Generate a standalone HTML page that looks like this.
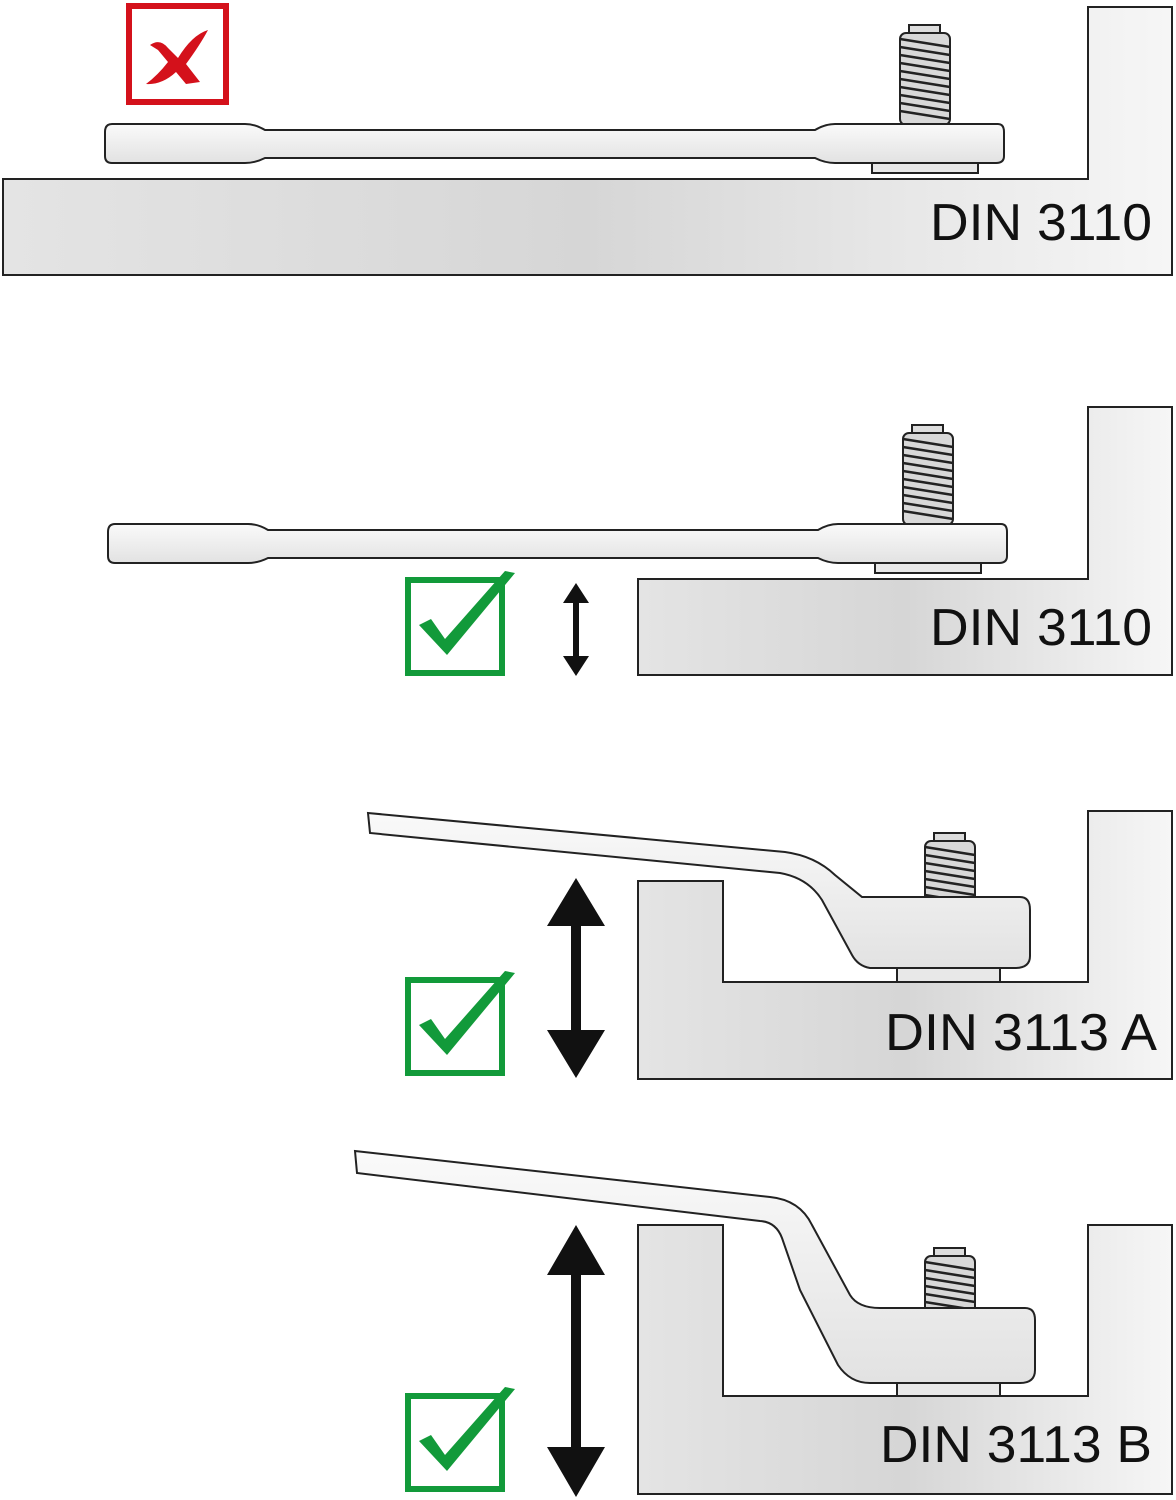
<!DOCTYPE html>
<html><head><meta charset="utf-8"><style>html,body{margin:0;padding:0;background:#fff}svg{display:block}text{font-family:"Liberation Sans",sans-serif}</style></head><body>
<svg width="1176" height="1500" viewBox="0 0 1176 1500" xmlns="http://www.w3.org/2000/svg">
<defs>
<linearGradient id="g" x1="0" y1="0" x2="1" y2="0"><stop offset="0" stop-color="#e4e4e4"/><stop offset="0.5" stop-color="#d6d6d6"/><stop offset="1" stop-color="#f6f6f6"/></linearGradient>
<linearGradient id="w" x1="0" y1="0" x2="0" y2="1"><stop offset="0" stop-color="#fafafa"/><stop offset="1" stop-color="#e2e2e2"/></linearGradient>
<g id="bolt">
<rect x="9" y="0" width="31" height="10" fill="#ddd" stroke="#222" stroke-width="2"/>
<rect x="0" y="8" width="50" height="92" rx="6" fill="#d8d8d8" stroke="#222" stroke-width="2"/>
<path d="M0,14 L50,22 M0,22 L50,30 M0,30 L50,38 M0,38 L50,46 M0,46 L50,54 M0,54 L50,62 M0,62 L50,70 M0,70 L50,78 M0,78 L50,86 M0,86 L50,94" stroke="#222" stroke-width="2.5"/>
</g>
<g id="check">
<rect x="3" y="3" width="94" height="93" fill="none" stroke="#129a3a" stroke-width="6"/>
<path d="M14,48 L26,42 L40,62 L100,-6 L110,-4 L42,78 Z" fill="#129a3a"/>
</g>
<path id="flat" d="M112,124 H245 Q255,124 265,130 H815 Q825,124 835,124 H998 Q1004,124 1004,132 V156 Q1004,163 996,163 H835 Q825,163 815,158 H265 Q255,163 245,163 H112 Q105,163 105,156 V132 Q105,124 112,124 Z"/>
</defs>
<polygon points="3,179 1088,179 1088,7 1172,7 1172,275 3,275" fill="url(#g)" stroke="#222" stroke-width="2"/>
<rect x="872" y="160" width="106" height="13" fill="#e8e8e8" stroke="#222" stroke-width="2"/>
<use href="#bolt" x="900" y="25"/>
<use href="#flat" fill="url(#w)" stroke="#222" stroke-width="2"/>
<text x="930" y="240" font-size="52" textLength="222" lengthAdjust="spacingAndGlyphs" fill="#111">DIN 3110</text>
<rect x="129" y="6" width="97" height="96" fill="#fff" stroke="#d4111b" stroke-width="6"/>
<path d="M150,45 Q160,38 168,48 L178,58 Q192,35 208,30 Q200,45 186,64 L200,82 L186,84 L176,72 Q162,85 146,84 Q158,75 168,62 L158,50 Z" fill="#d4111b"/>
<polygon points="638,579 1088,579 1088,407 1172,407 1172,675 638,675" fill="url(#g)" stroke="#222" stroke-width="2"/>
<rect x="875" y="560" width="106" height="13" fill="#e8e8e8" stroke="#222" stroke-width="2"/>
<use href="#bolt" x="903" y="425"/>
<use href="#flat" x="3" y="400" fill="url(#w)" stroke="#222" stroke-width="2"/>
<text x="930" y="645" font-size="52" textLength="222" lengthAdjust="spacingAndGlyphs" fill="#111">DIN 3110</text>
<use href="#check" x="405" y="577"/>
<path d="M576,583 L589,603 H579 V656 H589 L576,676 L563,656 H573 V603 H563 Z" fill="#111"/>
<polygon points="638,881 723,881 723,982 1088,982 1088,811 1172,811 1172,1079 638,1079" fill="url(#g)" stroke="#222" stroke-width="2"/>
<rect x="897" y="966" width="103" height="16" fill="#e8e8e8" stroke="#222" stroke-width="2"/>
<use href="#bolt" x="925" y="833"/>
<path d="M368,813 L785,852 Q815,856 835,875 L862,897 H1020 Q1030,897 1030,910 V956 Q1030,968 1015,968 H870 Q858,966 852,955 L822,900 Q808,878 780,873 L370,833 Z" fill="url(#w)" stroke="#222" stroke-width="2"/>
<text x="885" y="1050" font-size="52" textLength="272" lengthAdjust="spacingAndGlyphs" fill="#111">DIN 3113 A</text>
<use href="#check" x="405" y="977"/>
<path d="M576,878 L605,926 H581 V1030 H605 L576,1078 L547,1030 H571 V926 H547 Z" fill="#111"/>
<polygon points="638,1225 723,1225 723,1396 1088,1396 1088,1225 1172,1225 1172,1494 638,1494" fill="url(#g)" stroke="#222" stroke-width="2"/>
<rect x="897" y="1381" width="103" height="15" fill="#e8e8e8" stroke="#222" stroke-width="2"/>
<use href="#bolt" x="925" y="1248"/>
<path d="M355,1151 L770,1197 Q800,1200 812,1225 L850,1295 Q858,1308 880,1308 H1025 Q1035,1308 1035,1320 V1370 Q1035,1383 1020,1383 H870 Q850,1383 838,1365 L800,1290 L782,1238 Q776,1222 760,1221 L357,1173 Z" fill="url(#w)" stroke="#222" stroke-width="2"/>
<text x="880" y="1462" font-size="52" textLength="272" lengthAdjust="spacingAndGlyphs" fill="#111">DIN 3113 B</text>
<use href="#check" x="405" y="1393"/>
<path d="M576,1225 L605,1275 H581 V1447 H605 L576,1497 L547,1447 H571 V1275 H547 Z" fill="#111"/>
</svg>
</body></html>
